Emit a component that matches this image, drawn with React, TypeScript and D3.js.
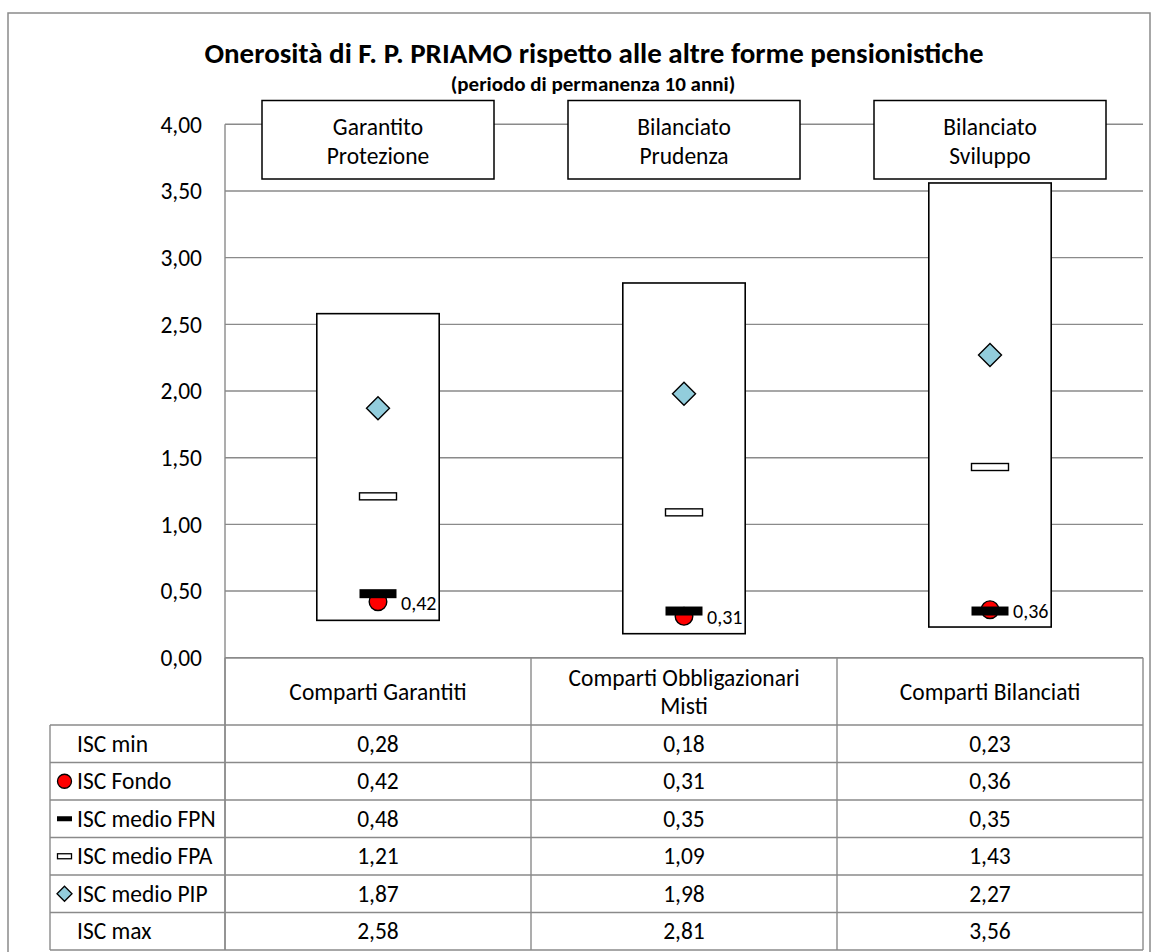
import React from "react";
import * as d3 from "d3";

const categories = ["Comparti Garantiti", "Comparti Obbligazionari Misti", "Comparti Bilanciati"];
const categoryLines = [["Comparti Garantiti"], ["Comparti Obbligazionari", "Misti"], ["Comparti Bilanciati"]];
const fundLabels = [["Garantito", "Protezione"], ["Bilanciato", "Prudenza"], ["Bilanciato", "Sviluppo"]];
const iscMin = [0.28, 0.18, 0.23];
const iscFondo = [0.42, 0.31, 0.36];
const iscFPN = [0.48, 0.35, 0.35];
const iscFPA = [1.21, 1.09, 1.43];
const iscPIP = [1.87, 1.98, 2.27];
const iscMax = [2.58, 2.81, 3.56];
const yTicks = [0, 0.5, 1, 1.5, 2, 2.5, 3, 3.5, 4];
const rowNames = ["ISC min", "ISC Fondo", "ISC medio FPN", "ISC medio FPA", "ISC medio PIP", "ISC max"];
const rowValues = [iscMin, iscFondo, iscFPN, iscFPA, iscPIP, iscMax];
const rowMarkers = ["none", "circle", "fpn", "fpa", "diamond", "none"];

const FONT = "Carlito, Calibri, Lato, sans-serif";
const fmt = (v: number) => d3.format(".2f")(v).replace(".", ",");

export default function App() {
  const W = 1154, H = 952;
  const left = 225, right = 1143, top = 124.3, bottom = 657.7;
  const y = d3.scaleLinear().domain([0, 4]).range([bottom, top]);
  const x = d3.scaleBand<string>().domain(categories).range([left, right]).padding(0);
  const bw = x.bandwidth();
  const cx = (i: number) => (x(categories[i]) as number) + bw / 2;
  const grid = "#8a8a8a";
  const tableLeft = 50;
  const headerBottom = 725;
  const rowH = 37.5;
  const tableBottom = headerBottom + rowH * rowNames.length;
  const FS = 23.5;

  const legendMarker = (type: string, mx: number, my: number) => {
    if (type === "circle") return <circle cx={mx} cy={my} r={7} fill="#ff0000" stroke="#000" strokeWidth={1.3} />;
    if (type === "fpn") return <rect x={mx - 7.5} y={my - 2.5} width={15} height={5} fill="#000" />;
    if (type === "fpa") return <rect x={mx - 7} y={my - 2.5} width={14} height={5} fill="#fff" stroke="#000" strokeWidth={1.3} />;
    if (type === "diamond") return <path d={`M${mx},${my - 7.5}L${mx + 7.5},${my}L${mx},${my + 7.5}L${mx - 7.5},${my}Z`} fill="#92cddc" stroke="#000" strokeWidth={1.3} />;
    return null;
  };

  return (
    <svg width={W} height={H} style={{ position: "absolute", left: 0, top: 0, background: "#fff" }} fontFamily={FONT}>
      <rect x={8} y={13} width={1142} height={1000} fill="#fff" stroke="#8a8a8a" strokeWidth={1.5} />
      <text x={594} y={63} textAnchor="middle" fontSize={29} fontWeight="bold" fill="#000">
        Onerosità di F. P. PRIAMO rispetto alle altre forme pensionistiche
      </text>
      <text x={593} y={91} textAnchor="middle" fontSize={21} fontWeight="bold" fill="#000">
        (periodo di permanenza 10 anni)
      </text>

      {yTicks.map((t) => (
        <g key={t}>
          <line x1={left} x2={right} y1={y(t)} y2={y(t)} stroke={grid} strokeWidth={1.4} />
          <text x={202} y={y(t)} dy="0.35em" textAnchor="end" fontSize={FS} fill="#000">{fmt(t)}</text>
        </g>
      ))}
      <line x1={left} x2={left} y1={top} y2={tableBottom} stroke={grid} strokeWidth={1.4} />

      {/* fund label boxes */}
      {fundLabels.map((lines, i) => (
        <g key={i}>
          <rect x={cx(i) - 116} y={100.5} width={232} height={78.5} fill="#fff" stroke="#000" strokeWidth={1.5} />
          {lines.map((l, j) => (
            <text key={j} x={cx(i)} y={127 + j * 29} dy="0.35em" textAnchor="middle" fontSize={FS} fill="#000">{l}</text>
          ))}
        </g>
      ))}

      {/* min-max boxes */}
      {categories.map((c, i) => (
        <rect key={c} x={cx(i) - bw * 0.2} y={y(iscMax[i])} width={bw * 0.4} height={y(iscMin[i]) - y(iscMax[i])} fill="#fff" stroke="#000" strokeWidth={1.6} />
      ))}
      {/* PIP diamonds */}
      {categories.map((c, i) => {
        const px = cx(i), py = y(iscPIP[i]), h = 11.5;
        return <path key={c} d={`M${px},${py - h}L${px + h},${py}L${px},${py + h}L${px - h},${py}Z`} fill="#92cddc" stroke="#000" strokeWidth={1.4} />;
      })}
      {/* FPA */}
      {categories.map((c, i) => (
        <rect key={c} x={cx(i) - 18.5} y={y(iscFPA[i]) - 3.5} width={37} height={7} fill="#fff" stroke="#000" strokeWidth={1.4} />
      ))}
      {/* Fondo circles */}
      {categories.map((c, i) => (
        <circle key={c} cx={cx(i)} cy={y(iscFondo[i])} r={8.8} fill="#ff0000" stroke="#000" strokeWidth={1.4} />
      ))}
      {/* FPN bars */}
      {categories.map((c, i) => (
        <rect key={c} x={cx(i) - 18.5} y={y(iscFPN[i]) - 4.5} width={37} height={9} fill="#000" />
      ))}
      {/* Fondo labels */}
      {categories.map((c, i) => (
        <text key={c} x={cx(i) + 23} y={y(iscFondo[i]) + 1} dy="0.35em" fontSize={20} fill="#000">{fmt(iscFondo[i])}</text>
      ))}

      {/* table */}
      <line x1={left} x2={right} y1={bottom} y2={bottom} stroke={grid} strokeWidth={1.4} />
      {[0, 1, 2, 3].map((k) => (
        <line key={k} x1={left + k * bw} x2={left + k * bw} y1={bottom} y2={tableBottom} stroke={grid} strokeWidth={1.4} />
      ))}
      <line x1={tableLeft} x2={tableLeft} y1={headerBottom} y2={tableBottom} stroke={grid} strokeWidth={1.4} />
      {d3.range(rowNames.length + 1).map((r) => (
        <line key={r} x1={tableLeft} x2={right} y1={headerBottom + r * rowH} y2={headerBottom + r * rowH} stroke={grid} strokeWidth={1.4} />
      ))}
      {categoryLines.map((lines, i) => (
        <g key={i}>
          {lines.map((l, j) => (
            <text key={j} x={cx(i)} y={691.5 + (j - (lines.length - 1) / 2) * 28} dy="0.35em" textAnchor="middle" fontSize={FS} fill="#000">{l}</text>
          ))}
        </g>
      ))}
      {rowNames.map((name, r) => {
        const ry = headerBottom + r * rowH + rowH / 2;
        return (
          <g key={name}>
            {legendMarker(rowMarkers[r], 64.5, ry)}
            <text x={77} y={ry} dy="0.35em" fontSize={FS} fill="#000">{name}</text>
            {rowValues[r].map((v, i) => (
              <text key={i} x={cx(i)} y={ry} dy="0.35em" textAnchor="middle" fontSize={FS} fill="#000">{fmt(v)}</text>
            ))}
          </g>
        );
      })}
    </svg>
  );
}
